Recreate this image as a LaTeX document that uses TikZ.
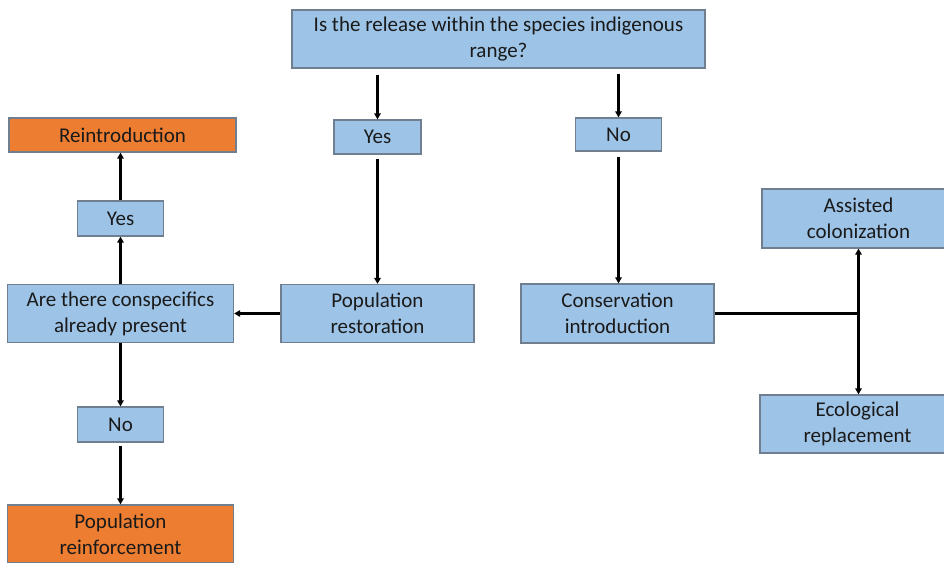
\documentclass[tikz,border=0pt]{standalone}
\usepackage{fontspec}
\setmainfont{Carlito}
\usetikzlibrary{arrows.meta}
\definecolor{boxblue}{HTML}{9DC3E6}
\definecolor{boxorange}{HTML}{ED7D31}
\definecolor{boxline}{HTML}{6F7F8F}
\definecolor{ink}{HTML}{1A1A1A}
\begin{document}
\begin{tikzpicture}[x=1pt,y=-1pt,
  box/.style={draw=boxline,line width=1.3pt,fill=boxblue,text=ink,
    inner sep=0pt,align=center,font=\fontsize{21}{26}\selectfont},
  endbox/.style={box,fill=boxorange},
  flow/.style={line width=2.5pt,draw=black,-{Triangle[length=6pt,width=6.5pt]}},
  plain/.style={line width=2.5pt,draw=black}]
\useasboundingbox (0,0) rectangle (944,562);
\begin{scope}
\clip (0,0) rectangle (944,562);
% decision boxes
\node[box,minimum width=413pt,minimum height=58pt] (q) at (498.5,39)
  {Is the release within the species indigenous\\range?};
\node[box,minimum width=87pt,minimum height=34pt] (yes1) at (377.5,137) {Yes};
\node[box,minimum width=86pt,minimum height=33pt] (no1) at (618.5,134.5) {No};
\node[box,minimum width=193pt,minimum height=58pt] (rest) at (377.5,313.5)
  {Population\\restoration};
\node[box,minimum width=193pt,minimum height=59pt] (intro) at (617.5,313.5)
  {Conservation\\introduction};
\node[box,minimum width=226pt,minimum height=58pt] (cons) at (120.5,313.5)
  {Are there conspecifics\\already present};
\node[box,minimum width=86pt,minimum height=35pt] (yes2) at (120.5,218.5) {Yes};
\node[box,minimum width=86pt,minimum height=35pt] (no2) at (120.5,424.5) {No};
\node[endbox,minimum width=227pt,minimum height=34pt] (reintro) at (122.5,135)
  {Reintroduction};
\node[endbox,minimum width=226pt,minimum height=58pt] (reinf) at (120.5,534)
  {Population\\reinforcement};
\node[box,minimum width=193pt,minimum height=59pt] (assist) at (858.5,218.5)
  {Assisted\\colonization};
\node[box,minimum width=195pt,minimum height=58pt] (ecol) at (857.5,424)
  {Ecological\\replacement};
\end{scope}
% connectors
\coordinate (j) at (858.5,313.5);
\draw[flow] (yes1.north |- q.south) ++(0,6) -- (yes1.north);
\draw[flow] (no1.north |- q.south) ++(0,5) -- (no1.north);
\draw[flow] (yes1.south) ++(0,4) -- (rest.north);
\draw[flow] (no1.south) ++(0,5) -- (no1.south |- intro.north);
\draw[flow] (rest.west) -- (cons.east);
\draw[flow] (cons.north) -- (yes2.south);
\draw[flow] (yes2.north) -- (yes2.north |- reintro.south);
\draw[flow] (cons.south) -- (no2.north);
\draw[flow] (no2.south) ++(0,3) -- (reinf.north);
\draw[plain] (intro.east) -- (j);
\draw[flow] (j) -- (j |- assist.south);
\draw[flow] (j) -- (j |- ecol.north);
\end{tikzpicture}
\end{document}
